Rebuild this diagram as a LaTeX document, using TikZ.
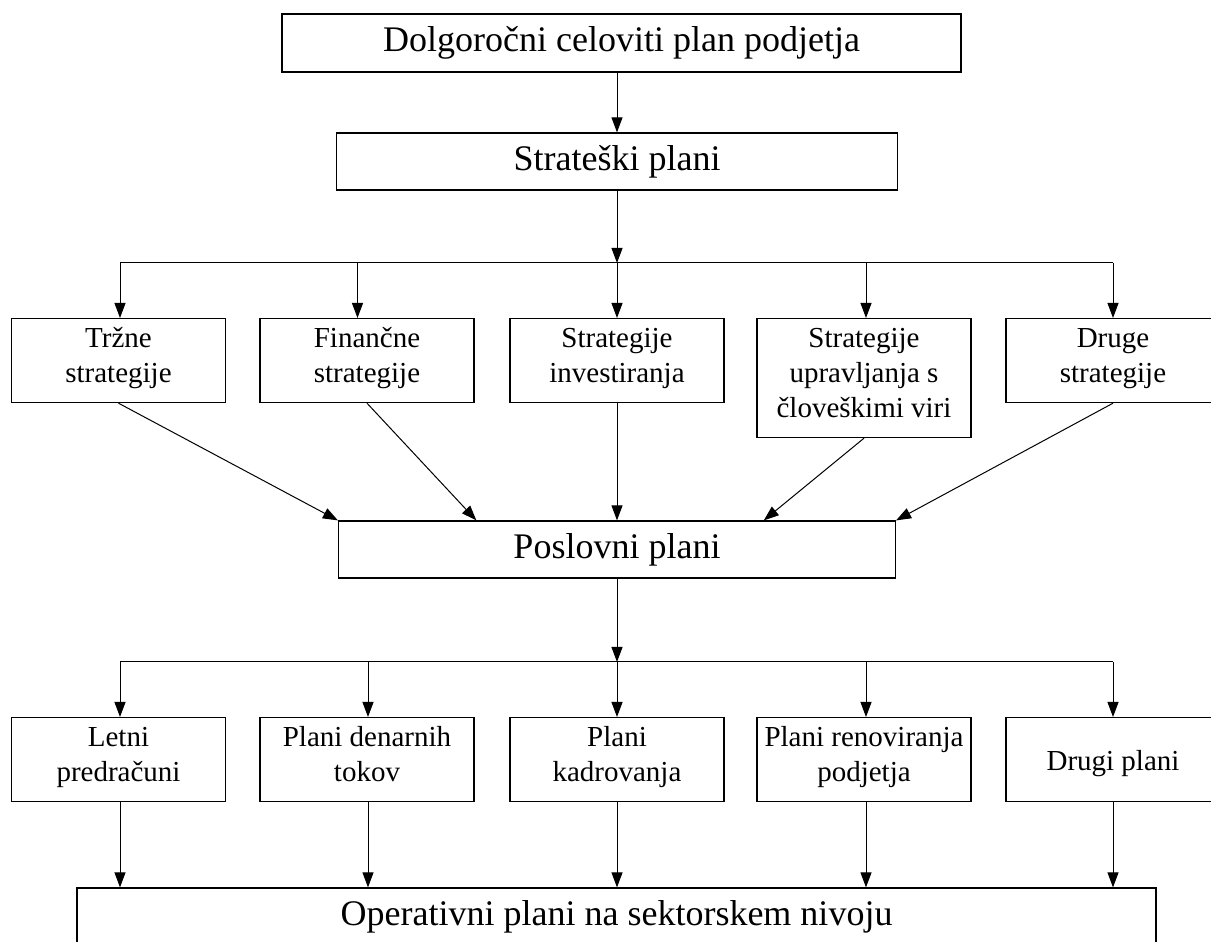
\documentclass[tikz,border=0pt]{standalone}
\usepackage{fontspec}
\setmainfont{Liberation Serif}
\usetikzlibrary{arrows.meta, positioning, calc}

\begin{document}
\begin{tikzpicture}[x=0.5pt, y=0.5pt,
		box/.style={draw=black, line width=0.6pt, align=center, inner sep=0pt, font=\fontsize{18}{21.6}\selectfont},
		smallbox/.style={draw=black, line width=0.6pt, align=center, inner sep=0pt, anchor=north, minimum width=107pt, minimum height=42pt, font=\fontsize{14.5}{17.5}\selectfont, execute at begin node={\rule{0pt}{16.5pt}}, execute at end node=\strut},
		link/.style={line width=0.5pt, -{Triangle[length=7.5pt, width=5.5pt]}},
		bus/.style={line width=0.5pt}]
			% Page frame (boxes at the right and bottom run past it)
			\useasboundingbox (0,0) rectangle (1211,942);

			% Upper levels
			\node[box, minimum width=339.5pt, minimum height=29pt] (plan) at (621.5,899) {Dolgoročni celoviti plan podjetja};
			\node[box, minimum width=280.5pt, minimum height=28.5pt] (strat) at (617,780.5) {Strateški plani};
			\draw[link] (plan.south -| strat.south) -- (strat.north);

			% Strategies
			\node[smallbox] (trzne) at (118.5,624) {Tržne\\strategije};
			\node[smallbox] (fin) at (367,624) {Finančne\\strategije};
			\node[smallbox] (inv) at (617,624) {Strategije\\investiranja};
			\node[smallbox, minimum height=59.5pt] (kadri) at (864,624) {Strategije\\upravljanja s\\človeškimi viri};
			\node[smallbox] (druge) at (1113,624) {Druge\\strategije};

			% Distribution bus from the strategic plans
			\coordinate (busA) at (617,679);
			\draw[link] (strat.south) -- (busA);
			\draw[bus] (120,679) -- (1113,679);
			\foreach \x/\n in {120/trzne, 357.5/fin, 617/inv, 866/kadri, 1113/druge} {
				\coordinate (d\n) at (\x,679);
				\draw[link] (d\n) -- (d\n |- \n.north);
			}

			% Business plans
			\node[box, minimum width=278.5pt, minimum height=28.5pt] (pos) at (617,392.5) {Poslovni plani};
			\coordinate (t2) at ($(pos.north west)!0.248!(pos.north east)$);
			\coordinate (t4) at ($(pos.north west)!0.763!(pos.north east)$);
			\draw[link] (trzne.south) -- (pos.north west);
			\draw[link] (fin.south) -- (t2);
			\draw[link] (inv.south) -- (pos.north);
			\draw[link] (kadri.south) -- (t4);
			\draw[link] (druge.south) -- (pos.north east);

			% Plans
			\node[smallbox] (letni) at (118.5,225) {Letni\\predračuni};
			\node[smallbox] (tokovi) at (367,225) {Plani denarnih\\tokov};
			\node[smallbox] (kadrov) at (617,225) {Plani\\kadrovanja};
			\node[smallbox] (renov) at (864,225) {Plani renoviranja\\podjetja};
			\node[smallbox] (drugi) at (1113,225) {Drugi plani};

			% Distribution bus from the business plans
			\coordinate (busB) at (617,280);
			\draw[link] (pos.south) -- (busB);
			\draw[bus] (120,280) -- (1113,280);

			% Operational level
			\node[box, minimum width=539.5pt, minimum height=29pt] (oper) at (616.5,25) {Operativni plani na sektorskem nivoju};
			\foreach \x/\n in {120/letni, 368/tokovi, 617/kadrov, 866/renov, 1113/drugi} {
				\coordinate (e\n) at (\x,280);
				\draw[link] (e\n) -- (e\n |- \n.north);
				\draw[link] (e\n |- \n.south) -- (e\n |- oper.north);
			}

\end{tikzpicture}
\end{document}
